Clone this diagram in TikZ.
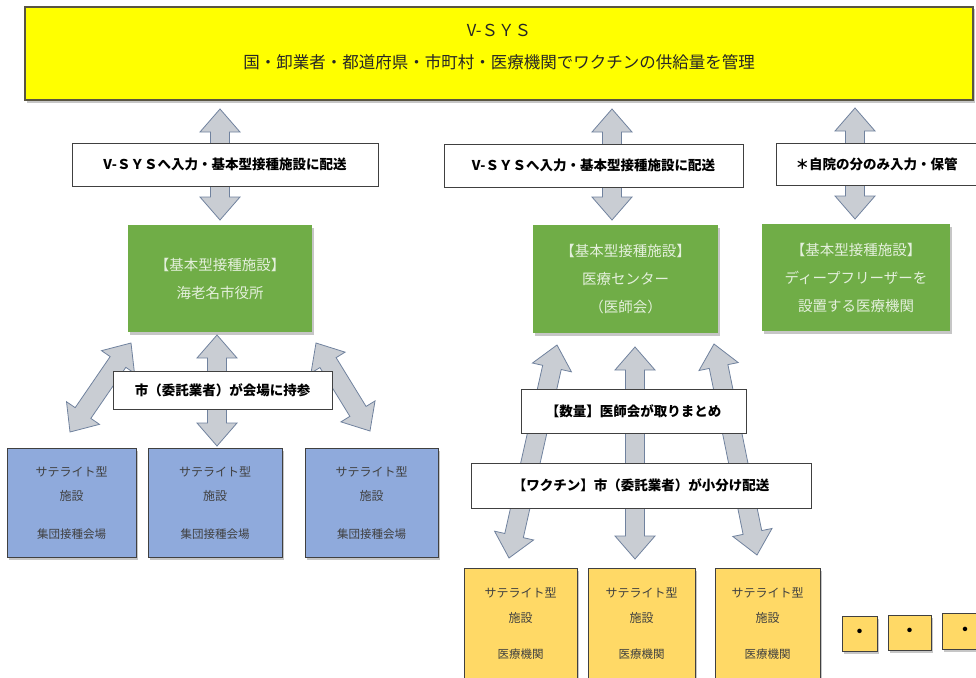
\documentclass[tikz,border=0pt]{standalone}
\usepackage{fontspec}
\setmainfont{Noto Sans CJK JP}
\usepackage{tikz}
\usetikzlibrary{calc,shadows,positioning}

\definecolor{vsysyellow}{RGB}{255,255,0}
\definecolor{kihongreen}{RGB}{112,173,71}
\definecolor{greentext}{RGB}{228,240,220}
\definecolor{satblue}{RGB}{143,170,220}
\definecolor{satyellow}{RGB}{255,217,102}
\definecolor{boxline}{RGB}{64,64,64}
\definecolor{sattext}{RGB}{64,64,64}
\definecolor{arrowfill}{RGB}{201,205,211}
\definecolor{arrowline}{RGB}{112,130,158}

\newcommand\arrhead{23pt}
\newcommand\arrwide{20pt}
\newcommand\arrshaft{9.5pt}
\newcommand\dblarrow[2]{%
	\coordinate (p1) at ($(#1)!\arrhead!(#2)$);
	\coordinate (p2) at ($(#2)!\arrhead!(#1)$);
	\draw[grayarrow] (#1) -- ($(p1)!\arrwide!90:(#2)$) -- ($(p1)!\arrshaft!90:(#2)$)
		-- ($(p2)!\arrshaft!-90:(#1)$) -- ($(p2)!\arrwide!-90:(#1)$) -- (#2)
		-- ($(p2)!\arrwide!90:(#1)$) -- ($(p2)!\arrshaft!90:(#1)$)
		-- ($(p1)!\arrshaft!-90:(#2)$) -- ($(p1)!\arrwide!-90:(#2)$) -- cycle;}

\begin{document}
\begin{tikzpicture}[x=1pt,y=-1pt,inner sep=0pt,
	grayarrow/.style={fill=arrowfill,draw=arrowline,line width=.8pt},
	shadowed/.style={drop shadow={shadow xshift=2pt,shadow yshift=-2.5pt,opacity=.45}},
	vsysbox/.style={rectangle,fill=vsysyellow,draw=black!75!yellow,line width=1.2pt,shadowed,minimum width=948pt,minimum height=93pt},
	vsystext/.style={text=black!85,font=\fontsize{16.5}{20}\selectfont},
	labelbox/.style={rectangle,fill=white,draw=boxline,line width=.8pt,font=\fontsize{13.5}{16}\selectfont\bfseries,minimum height=43pt},
	kihonbox/.style={rectangle,fill=kihongreen,shadowed,text=greentext,align=center,font=\fontsize{14.5}{28}\selectfont,minimum height=107pt},
	satbox/.style={rectangle,draw=boxline,line width=.8pt,shadowed,text=sattext,align=center},
	bluebox/.style={satbox,fill=satblue,minimum height=109pt,font=\fontsize{12}{24}\selectfont},
	goldbox/.style={satbox,fill=satyellow,minimum height=110pt,font=\fontsize{12}{25}\selectfont},
	dotbox/.style={satbox,fill=satyellow,minimum height=35pt,text=black,font=\fontsize{16}{18}\selectfont\bfseries}]
	\useasboundingbox (0,0) rectangle (976,677);
	\clip (0,0) rectangle (976,677);

	\coordinate (vsysL) at (220,109);	\coordinate (kihonLtop) at (220,220);
	\coordinate (vsysM) at (612,109);	\coordinate (kihonMtop) at (612,220);
	\coordinate (vsysR) at (855,108);	\coordinate (kihonRtop) at (855,219);
	\coordinate (kihonLa) at (131,343);	\coordinate (satLa) at (70,432);
	\coordinate (kihonLb) at (217,335);	\coordinate (satLb) at (217,446);
	\coordinate (kihonLc) at (316,343);	\coordinate (satLc) at (370,431);
	\coordinate (kihonMa) at (557,345);	\coordinate (satMa) at (509,558);
	\coordinate (kihonMb) at (635,347);	\coordinate (satMb) at (635,559);
	\coordinate (kihonMc) at (714,344);	\coordinate (satMc) at (757,555);
	\foreach \a/\b in {vsysL/kihonLtop,vsysM/kihonMtop,vsysR/kihonRtop,
			kihonLa/satLa,kihonLb/satLb,kihonLc/satLc,
			kihonMa/satMa,kihonMb/satMb,kihonMc/satMc}
		\dblarrow{\a}{\b};

	\node[vsysbox] (vsys) at (499,53.5) {};
	\node[vsystext] (vsystitle) at (499,30) {V-ＳＹＳ};
	\node[vsystext] (vsysline) at (499,62) {国・卸業者・都道府県・市町村・医療機関でワクチンの供給量を管理};

	\node[labelbox,minimum width=306pt] (inL) at (225,164.5) {V-ＳＹＳへ入力・基本型接種施設に配送};
	\node[labelbox,minimum width=299pt] (inM) at (593.5,165.5) {V-ＳＹＳへ入力・基本型接種施設に配送};
	\node[labelbox,minimum width=201pt,minimum height=42pt] (inR) at (876.5,164) {＊自院の分のみ入力・保管};

	\node[kihonbox,minimum width=184pt] (kihonL) at (220,278.5) {【基本型接種施設】\\海老名市役所};
	\node[kihonbox,minimum width=185pt,minimum height=108pt] (kihonM) at (625.5,279) {【基本型接種施設】\\医療センター\\（医師会）};
	\node[kihonbox,minimum width=188pt] (kihonR) at (856,277.5) {【基本型接種施設】\\ディープフリーザーを\\設置する医療機関};

	\node[labelbox,minimum width=219pt,minimum height=38pt] (jisan) at (222.5,390) {市（委託業者）が会場に持参};
	\node[labelbox,minimum width=225pt,minimum height=44pt] (suryo) at (633.5,411) {【数量】医師会が取りまとめ};
	\node[labelbox,minimum width=340pt,minimum height=45pt] (haiso) at (641,485.5) {【ワクチン】市（委託業者）が小分け配送};

	\node[bluebox,minimum width=129pt] (satL1) at (71.5,503) {サテライト型\\施設\\[14pt]\fontsize{11.5}{14}\selectfont 集団接種会場};
	\node[bluebox,minimum width=134pt] (satL2) at (215,502.5) {サテライト型\\施設\\[14pt]\fontsize{11.5}{14}\selectfont 集団接種会場};
	\node[bluebox,minimum width=133pt] (satL3) at (371.5,502.5) {サテライト型\\施設\\[14pt]\fontsize{11.5}{14}\selectfont 集団接種会場};

	\node[goldbox,minimum width=113pt] (satM1) at (520.5,623) {サテライト型\\施設\\[11pt]\fontsize{11.5}{14}\selectfont 医療機関};
	\node[goldbox,minimum width=107pt] (satM2) at (641.5,623) {サテライト型\\施設\\[11pt]\fontsize{11.5}{14}\selectfont 医療機関};
	\node[goldbox,minimum width=105pt] (satM3) at (767.5,623) {サテライト型\\施設\\[11pt]\fontsize{11.5}{14}\selectfont 医療機関};

	\node[dotbox,minimum width=35pt] (dot1) at (859.5,633.5) {・};
	\node[dotbox,minimum width=43pt] (dot2) at (909.5,632.5) {・};
	\node[dotbox,minimum width=46pt,minimum height=36pt] (dot3) at (965,631) {・};
\end{tikzpicture}
\end{document}
